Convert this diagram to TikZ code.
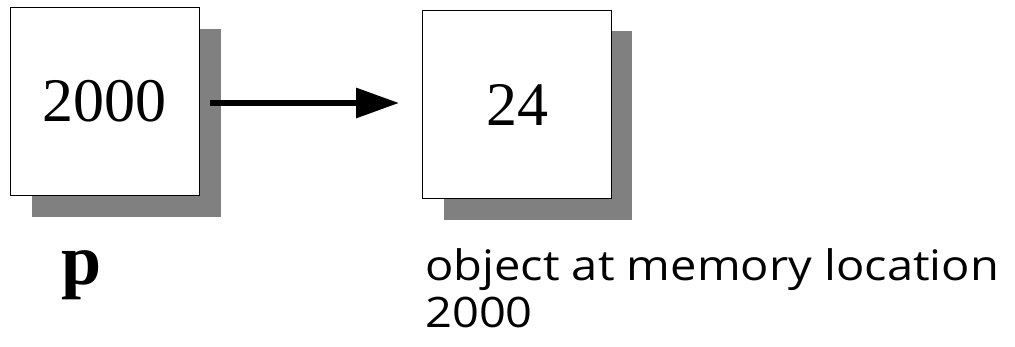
\documentclass[tikz,border=0pt]{standalone}
\usepackage{fontspec}
\setmainfont{Liberation Serif}
\newfontfamily\labelsans{Open Sans}[FakeStretch=1.12]
\usetikzlibrary{arrows.meta}
\tikzset{
  cell/.style={draw=black, line width=0.9pt, fill=white, minimum width=189pt,
    minimum height=188pt, inner sep=0pt, font=\fontsize{62}{62}\selectfont},
  shade/.style={fill=black!50, draw=none},
  ptr/.style={line width=6pt, -{Triangle[length=43pt,width=29pt]}},
  caption/.style={inner sep=0pt, align=left, font=\labelsans\fontsize{42}{47}\selectfont},
  varname/.style={inner sep=0pt, font=\bfseries\fontsize{72}{72}\selectfont}
}
\begin{document}
\begin{tikzpicture}[x=1pt, y=-1pt]
  \useasboundingbox[fill=white] (0,0) rectangle (1015,347);
  % pointer cell holding the address
  \fill[shade] (32,29) rectangle (221,217);
  \node[cell] (b1) at (104.5,101) {2000};
  % object cell at that address
  \fill[shade] (444,31) rectangle (632,220);
  \node[cell] (b2) at (517,104.5) {24};
  % reference arrow
  \draw[ptr, shorten <=11pt, shorten >=23pt] (b1.east) ++(0,2) coordinate (from) -- (from -| b2.west);
  % captions
  \node[varname, anchor=base west] (pname) at (61,285) {p};
  \node[caption, anchor=base west] (oname) at (425,327) {object at memory location\\2000};
\end{tikzpicture}
\end{document}
